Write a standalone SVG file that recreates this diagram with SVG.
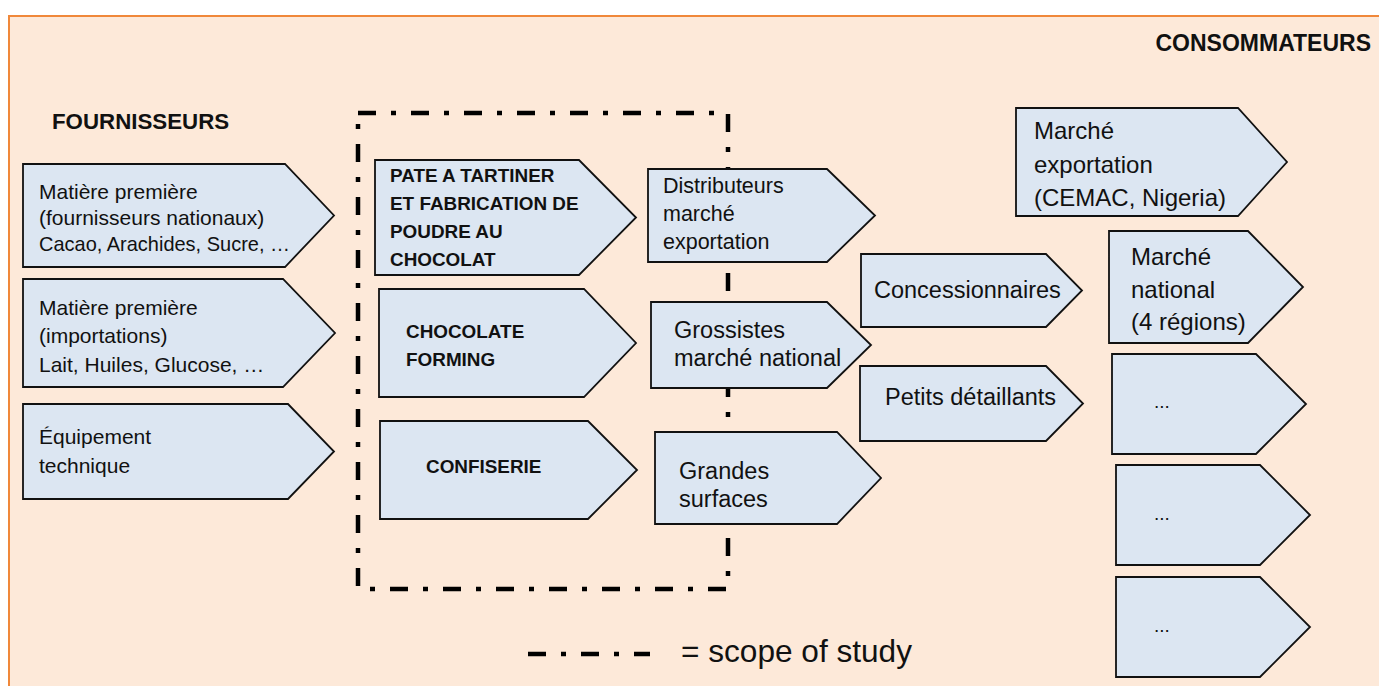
<svg xmlns="http://www.w3.org/2000/svg" width="1379" height="686" viewBox="0 0 1379 686">
<style>
.node{fill:#DCE6F2;stroke:#111;stroke-width:1.8;stroke-linejoin:miter}
text{font-family:"Liberation Sans",Arial,sans-serif;fill:#111}
.cal{font-size:21px}
.bold{font-weight:bold;font-size:18.9px}
.ar{font-size:23.5px}
.ar2{font-size:21.5px}
.big{font-size:24px}
.dots{font-size:19px}
.head{font-weight:bold;font-size:22.3px}
.scope{fill:none;stroke:#000;stroke-width:4.5;stroke-dasharray:18 15 5 15}
</style>
<rect x="9" y="16" width="1380" height="690" fill="#FDE9D9" stroke="#F0883A" stroke-width="2"/>
<text class="head" x="52" y="129">FOURNISSEURS</text>
<text class="head" x="1371" y="51" text-anchor="end" style="font-size:23px">CONSOMMATEURS</text>
<g id="scope">
<path class="scope" d="M358,113 H728 V589 H358 Z"/>
<path class="scope" d="M528,654 H650"/>
<text x="681" y="662" style="font-size:31.6px">= scope of study</text>
</g>
<g id="connectors"></g>
<g id="n1"><path class="node" d="M23,164 H285 L334,215.5 L285,267 H23 Z"/>
<text class="cal" x="39" y="199">Matière première</text>
<text class="cal" x="39" y="225">(fournisseurs nationaux)</text>
<text class="cal" x="39" y="251" textLength="251" lengthAdjust="spacingAndGlyphs">Cacao, Arachides, Sucre, …</text></g>
<g id="n2"><path class="node" d="M23,279 H283 L335,333 L283,387 H23 Z"/>
<text class="cal" x="39" y="315">Matière première</text>
<text class="cal" x="39" y="343">(importations)</text>
<text class="cal" x="39" y="372">Lait, Huiles, Glucose, …</text></g>
<g id="n3"><path class="node" d="M23,404 H288 L334,451.5 L288,499 H23 Z"/>
<text class="cal" x="39" y="444">Équipement</text>
<text class="cal" x="39" y="473">technique</text></g>
<g id="pate"><path class="node" d="M375,160 H579 L636,217.5 L579,275 H375 Z"/>
<text class="bold" x="390" y="182">PATE A TARTINER</text>
<text class="bold" x="390" y="210">ET FABRICATION DE</text>
<text class="bold" x="390" y="238">POUDRE AU</text>
<text class="bold" x="390" y="266">CHOCOLAT</text></g>
<g id="forming"><path class="node" d="M379,289 H584 L636,343 L584,397 H379 Z"/>
<text class="bold" x="406" y="338">CHOCOLATE</text>
<text class="bold" x="406" y="366">FORMING</text></g>
<g id="confiserie"><path class="node" d="M380,421 H588 L637,470 L588,519 H380 Z"/>
<text class="bold" x="426" y="473">CONFISERIE</text></g>
<g id="distrib"><path class="node" d="M648,169 H827 L875,215.5 L827,262 H648 Z"/>
<text class="ar2" x="663" y="193">Distributeurs</text>
<text class="ar2" x="663" y="221">marché</text>
<text class="ar2" x="663" y="249">exportation</text></g>
<g id="gross"><path class="node" d="M651,302 H827 L871,345 L827,388 H651 Z"/>
<text class="ar" x="674" y="338">Grossistes</text>
<text class="ar" x="674" y="366">marché national</text></g>
<g id="grandes"><path class="node" d="M655,432 H837 L881,478 L837,524 H655 Z"/>
<text class="ar" x="679" y="479">Grandes</text>
<text class="ar" x="679" y="507">surfaces</text></g>
<g id="conc"><path class="node" d="M861,254 H1046 L1082,290.5 L1046,327 H861 Z"/>
<text class="ar" x="874" y="298">Concessionnaires</text></g>
<g id="petits"><path class="node" d="M860,366 H1046 L1083,403.5 L1046,441 H860 Z"/>
<text class="ar" x="885" y="405">Petits détaillants</text></g>
<g id="mexp"><path class="node" d="M1016,108 H1238 L1287,162 L1238,216 H1016 Z"/>
<text class="big" x="1034" y="139">Marché</text>
<text class="big" x="1034" y="173">exportation</text>
<text class="big" x="1034" y="206">(CEMAC, Nigeria)</text></g>
<g id="mnat"><path class="node" d="M1109,231 H1248 L1303,287 L1248,343 H1109 Z"/>
<text class="big" x="1131" y="265">Marché</text>
<text class="big" x="1131" y="298">national</text>
<text class="big" x="1131" y="330">(4 régions)</text></g>
<g id="e1"><path class="node" d="M1112,354 H1256 L1306,404 L1256,454 H1112 Z"/>
<text class="dots" x="1154" y="408">...</text></g>
<g id="e2"><path class="node" d="M1116,465 H1260 L1310,515 L1260,565 H1116 Z"/>
<text class="dots" x="1154" y="520">...</text></g>
<g id="e3"><path class="node" d="M1116,577 H1260 L1310,627 L1260,677 H1116 Z"/>
<text class="dots" x="1154" y="632">...</text></g>
</svg>
